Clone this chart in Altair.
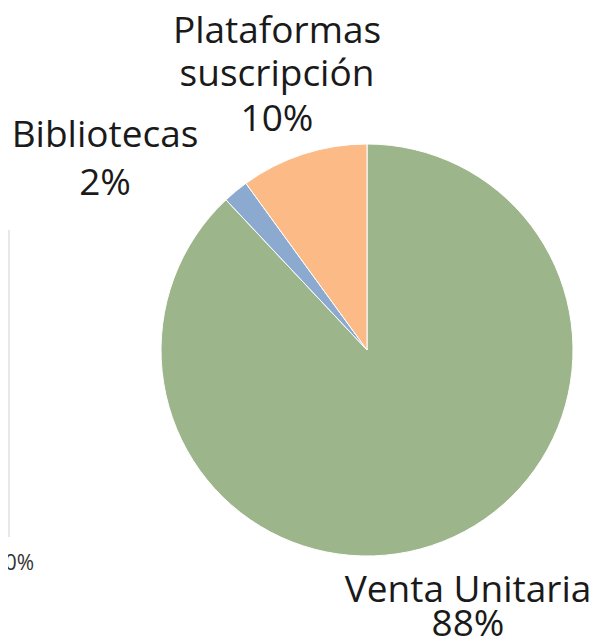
import altair as alt
import pandas as pd

categories = ["Venta Unitaria", "Bibliotecas", "Plataformas suscripción"]
values = [88, 2, 10]
order = [1, 2, 3]
colors = ["#9DB58A", "#8CA9D0", "#FBBA86"]

label_lines = [["Venta Unitaria", "88%"], ["Bibliotecas", "2%"], ["Plataformas", "suscripción", "10%"]]
axis_label = "0%"

df = pd.DataFrame({"category": categories, "value": values, "order": order})

FONT = "Open Sans"
OX, OY = 8, 8  # page margin

pie = alt.Chart(df).mark_arc(outerRadius=206, stroke="white", strokeWidth=1).encode(
    theta=alt.Theta("value:Q", stack=True),
    color=alt.Color("category:N", scale=alt.Scale(domain=categories, range=colors), legend=None),
    order=alt.Order("order:Q", sort="ascending"),
    x=alt.value(367 - OX),
    y=alt.value(350 - OY),
)

# label positions (page coords): centre x, baselines
label_pos = [
    (468, [602, 636]),
    (105, [147, 195]),
    (277, [43, 86, 131]),
]

layers = [pie]
for lines, (cx, bases) in zip(label_lines, label_pos):
    for line, by in zip(lines, bases):
        t = alt.Chart(pd.DataFrame({"t": [line]})).mark_text(
            font=FONT, fontSize=37, color="#1a1a1a", align="center", baseline="alphabetic"
        ).encode(text="t:N", x=alt.value(cx - OX), y=alt.value(by - OY))
        layers.append(t)

rule = alt.Chart(pd.DataFrame({"a": [0]})).mark_rule(color="#d0d0d0", strokeWidth=1).encode(
    x=alt.value(9 - OX), y=alt.value(230 - OY), y2=alt.value(537 - OY)
)
zero = alt.Chart(pd.DataFrame({"t": [axis_label]})).mark_text(
    font=FONT, fontSize=21, color="#333333", align="right", baseline="alphabetic"
).encode(text="t:N", x=alt.value(34 - OX), y=alt.value(570 - OY))
layers += [rule, zero]

chart = alt.layer(*layers).properties(
    width=581, height=628, autosize=alt.AutoSizeParams(type="none"), padding=0
).configure_view(stroke=None)

chart.save("out.html", embed_options={"renderer": "svg", "actions": False})
